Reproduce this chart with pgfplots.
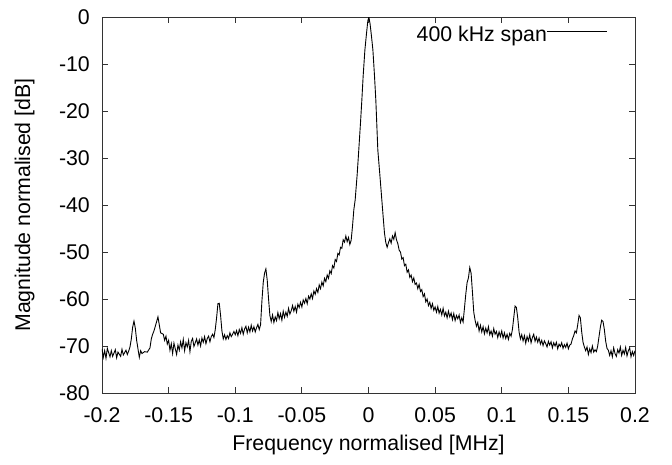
\documentclass[border=0pt]{standalone}
\usepackage{pgfplots}
\pgfplotsset{compat=1.18}
\usepackage{fontspec}
\setmainfont{Liberation Sans}
\begin{document}
\fontsize{21.3}{25}\selectfont
\begin{tikzpicture}
\begin{axis}[
  scale only axis, width=533pt, height=376pt,
  xmin=-0.2, xmax=0.2, ymin=-80, ymax=0,
  xtick={-0.2,-0.15,...,0.2}, ytick={-80,-70,...,0},
  scaled x ticks=false,
  /pgf/number format/assume math mode=true,
  xticklabel style={/pgf/number format/fixed, /pgf/number format/precision=2, anchor=base, yshift=-29pt},
  yticklabel style={anchor=east, inner sep=0pt, xshift=-12pt},
  tick align=inside, major tick length=6pt,
  axis line style={black!80, line width=0.9pt},
  every tick/.style={black!80, line width=0.8pt},
  xlabel={Frequency normalised [MHz]},
  ylabel={Magnitude normalised [dB]},
  xlabel style={at={(axis description cs:0.5,-0.152)}, anchor=base},
  ylabel style={at={(axis description cs:-0.145,0.5)}, anchor=center},
  legend plot pos=right,
  legend image code/.code={\draw[#1] (0pt,4pt) -- (60pt,4pt);},
  legend style={draw=none, fill=none, inner sep=0pt, outer sep=0pt,
    at={(axis description cs:0.949,0.952)}, anchor=east,
    font=\fontsize{21.3}{25}\selectfont,
    nodes={inner sep=0pt}, /tikz/every even column/.style={column sep=0pt}},
]
\addplot[black, line width=0.9pt, sharp plot] coordinates {
(-0.200,-70.6)(-0.199,-72.4)(-0.198,-71.0)(-0.197,-72.6)(-0.196,-70.5)(-0.194,-72.3)
(-0.193,-71.0)(-0.192,-72.2)(-0.190,-70.8)(-0.189,-72.5)(-0.188,-71.3)(-0.186,-72.2)
(-0.185,-70.7)(-0.184,-71.9)(-0.182,-70.9)(-0.181,-71.8)(-0.180,-71.1)(-0.179,-70.2)
(-0.178,-68.5)(-0.177,-66.0)(-0.176,-64.7)(-0.175,-66.2)(-0.174,-68.8)(-0.173,-70.6)
(-0.172,-72.4)(-0.171,-71.0)(-0.170,-71.6)(-0.168,-71.2)(-0.166,-71.3)(-0.164,-70.4)
(-0.163,-68.5)(-0.162,-67.5)(-0.161,-66.8)(-0.159,-64.8)(-0.158,-63.8)(-0.157,-65.5)
(-0.156,-67.2)(-0.154,-67.5)(-0.153,-68.8)(-0.152,-67.9)(-0.151,-69.6)(-0.150,-68.8)
(-0.149,-70.9)(-0.148,-69.5)(-0.147,-71.6)(-0.146,-69.4)(-0.145,-70.6)(-0.144,-71.8)
(-0.143,-69.8)(-0.142,-70.9)(-0.141,-69.1)(-0.140,-70.4)(-0.139,-68.6)(-0.138,-71.0)
(-0.137,-69.3)(-0.136,-70.2)(-0.135,-68.8)(-0.134,-71.2)(-0.133,-69.0)(-0.132,-68.4)
(-0.131,-70.1)(-0.130,-69.3)(-0.129,-68.5)(-0.128,-69.8)(-0.127,-68.7)(-0.126,-70.0)
(-0.125,-68.3)(-0.124,-69.2)(-0.123,-68.0)(-0.122,-69.5)(-0.121,-68.4)(-0.120,-67.9)
(-0.119,-69.1)(-0.118,-68.0)(-0.117,-67.5)(-0.116,-68.2)(-0.115,-66.5)(-0.114,-64.0)
(-0.113,-61.0)(-0.112,-60.9)(-0.111,-63.5)(-0.110,-66.8)(-0.109,-68.5)(-0.108,-67.6)
(-0.107,-68.6)(-0.106,-67.8)(-0.105,-68.4)(-0.104,-67.2)(-0.103,-68.0)(-0.102,-67.5)
(-0.101,-66.9)(-0.100,-67.6)(-0.099,-66.7)(-0.098,-67.8)(-0.097,-66.5)(-0.096,-67.3)
(-0.095,-66.1)(-0.094,-67.5)(-0.093,-66.4)(-0.092,-65.8)(-0.091,-67.2)(-0.090,-66.0)
(-0.089,-67.0)(-0.088,-65.6)(-0.087,-66.8)(-0.086,-65.9)(-0.085,-67.0)(-0.084,-66.1)
(-0.083,-65.4)(-0.082,-66.5)(-0.081,-65.5)(-0.080,-60.5)(-0.079,-56.5)(-0.078,-54.5)
(-0.077,-53.6)(-0.076,-56.0)(-0.075,-60.0)(-0.074,-63.5)(-0.073,-64.8)(-0.072,-63.4)
(-0.071,-65.0)(-0.070,-63.8)(-0.069,-64.6)(-0.068,-62.9)(-0.067,-64.2)(-0.066,-63.1)
(-0.065,-64.5)(-0.064,-62.6)(-0.063,-63.9)(-0.062,-62.8)(-0.061,-63.7)(-0.060,-62.0)
(-0.059,-63.2)(-0.058,-62.5)(-0.057,-61.4)(-0.056,-62.6)(-0.055,-61.6)(-0.054,-62.8)
(-0.053,-61.1)(-0.052,-61.8)(-0.051,-60.7)(-0.050,-61.7)(-0.049,-60.2)(-0.048,-60.9)
(-0.047,-59.9)(-0.046,-61.0)(-0.045,-59.4)(-0.044,-60.0)(-0.043,-58.9)(-0.042,-59.9)
(-0.041,-58.3)(-0.040,-59.0)(-0.039,-57.8)(-0.038,-58.6)(-0.037,-57.0)(-0.036,-57.8)
(-0.035,-56.4)(-0.034,-57.2)(-0.033,-55.6)(-0.032,-56.3)(-0.031,-54.9)(-0.030,-55.6)
(-0.029,-54.0)(-0.028,-54.6)(-0.027,-52.9)(-0.026,-53.4)(-0.025,-51.6)(-0.024,-52.0)
(-0.023,-50.3)(-0.022,-50.6)(-0.021,-49.0)(-0.020,-49.2)(-0.019,-47.4)(-0.018,-47.9)
(-0.017,-46.6)(-0.016,-47.8)(-0.015,-46.9)(-0.014,-48.4)(-0.013,-47.5)
(-0.012,-44.5)(-0.011,-41.0)(-0.010,-38.9)(-0.0085,-33.5)(-0.0073,-28.3)(-0.006,-22.5)
(-0.005,-17.7)(-0.004,-12.5)(-0.0027,-7.0)(-0.0015,-3.5)(-0.0005,-0.8)(0.0003,0)
(0.0012,-1.5)(0.0022,-4.0)(0.0033,-7.0)(0.0045,-12.5)(0.0055,-17.7)(0.007,-28.3)
(0.0085,-33.5)(0.010,-38.9)(0.011,-42.5)(0.012,-46.0)(0.013,-48.0)(0.014,-49.0)
(0.015,-48.0)(0.016,-47.2)(0.017,-48.1)(0.018,-46.6)(0.019,-47.3)(0.020,-45.9)
(0.021,-47.4)(0.022,-48.2)(0.023,-49.6)(0.024,-50.0)(0.025,-51.5)(0.026,-51.2)
(0.027,-52.9)(0.028,-52.6)(0.029,-54.3)(0.030,-53.8)(0.031,-55.4)(0.032,-54.9)
(0.033,-56.3)(0.034,-55.5)(0.035,-56.9)(0.036,-56.6)(0.037,-57.8)(0.038,-56.9)
(0.039,-58.4)(0.040,-58.0)(0.041,-59.5)(0.042,-58.9)(0.043,-60.6)(0.044,-60.0)
(0.045,-61.4)(0.046,-60.7)(0.047,-62.0)(0.048,-61.0)(0.049,-62.4)(0.050,-61.7)
(0.051,-62.8)(0.052,-61.6)(0.053,-63.0)(0.054,-62.2)(0.055,-63.4)(0.056,-62.0)
(0.057,-63.6)(0.058,-62.8)(0.059,-64.0)(0.060,-62.6)(0.061,-63.8)(0.062,-63.0)
(0.063,-64.4)(0.064,-63.1)(0.065,-64.6)(0.066,-63.5)(0.067,-64.2)(0.068,-63.4)
(0.069,-65.0)(0.070,-64.0)(0.071,-64.9)(0.072,-62.0)(0.073,-59.0)(0.074,-56.5)
(0.075,-55.5)(0.076,-53.3)(0.077,-54.5)(0.078,-58.5)(0.079,-62.8)(0.080,-64.5)
(0.081,-65.8)(0.082,-65.0)(0.083,-66.8)(0.084,-65.6)(0.085,-67.0)(0.086,-65.9)
(0.087,-67.4)(0.088,-66.2)(0.089,-67.2)(0.090,-65.9)(0.091,-67.6)(0.092,-66.8)
(0.093,-67.9)(0.094,-66.3)(0.095,-67.5)(0.096,-66.9)(0.097,-68.2)(0.098,-67.0)
(0.099,-68.0)(0.100,-66.8)(0.101,-68.3)(0.102,-67.2)(0.103,-68.4)(0.104,-67.5)
(0.105,-68.6)(0.106,-67.3)(0.107,-67.9)(0.108,-66.5)(0.109,-64.0)(0.110,-61.5)
(0.111,-61.8)(0.112,-64.0)(0.113,-67.0)(0.114,-68.5)(0.115,-67.6)(0.116,-68.9)
(0.117,-67.8)(0.118,-69.4)(0.119,-68.0)(0.120,-68.9)(0.121,-67.6)(0.122,-69.3)
(0.123,-68.2)(0.124,-67.5)(0.125,-69.0)(0.126,-68.1)(0.127,-69.2)(0.128,-68.3)
(0.129,-69.6)(0.130,-68.8)(0.131,-69.9)(0.132,-68.9)(0.133,-69.5)(0.134,-70.2)
(0.135,-69.0)(0.136,-69.8)(0.137,-69.1)(0.138,-70.4)(0.139,-69.3)(0.140,-70.0)
(0.141,-69.2)(0.142,-70.6)(0.143,-69.6)(0.144,-70.1)(0.145,-69.3)(0.146,-70.5)
(0.147,-69.7)(0.148,-70.3)(0.149,-69.4)(0.150,-70.6)(0.151,-69.8)(0.152,-69.6)
(0.153,-68.5)(0.154,-67.8)(0.155,-66.8)(0.156,-67.2)(0.157,-65.5)(0.158,-63.5)
(0.159,-64.0)(0.160,-67.0)(0.161,-69.2)(0.162,-70.2)(0.163,-71.0)(0.164,-70.2)
(0.165,-71.8)(0.166,-70.6)(0.167,-71.4)(0.168,-70.0)(0.169,-71.3)(0.170,-70.8)
(0.171,-71.2)(0.172,-70.0)(0.173,-68.0)(0.174,-66.0)(0.175,-64.5)(0.176,-64.8)
(0.177,-66.5)(0.178,-69.0)(0.179,-70.5)(0.180,-70.9)(0.181,-72.0)(0.182,-71.0)
(0.183,-72.3)(0.184,-70.4)(0.185,-71.6)(0.186,-72.2)(0.187,-70.8)(0.188,-71.5)
(0.189,-70.2)(0.190,-72.0)(0.191,-70.9)(0.192,-71.7)(0.193,-70.3)(0.194,-72.1)
(0.195,-71.0)(0.196,-70.4)(0.197,-72.3)(0.198,-71.2)(0.199,-72.0)(0.200,-71.0)
};
\addlegendentry{400 kHz span}
\end{axis}
\path (current axis.south west) ++(-102pt,-71pt) rectangle ++(672pt,464pt);
\end{tikzpicture}
\end{document}
